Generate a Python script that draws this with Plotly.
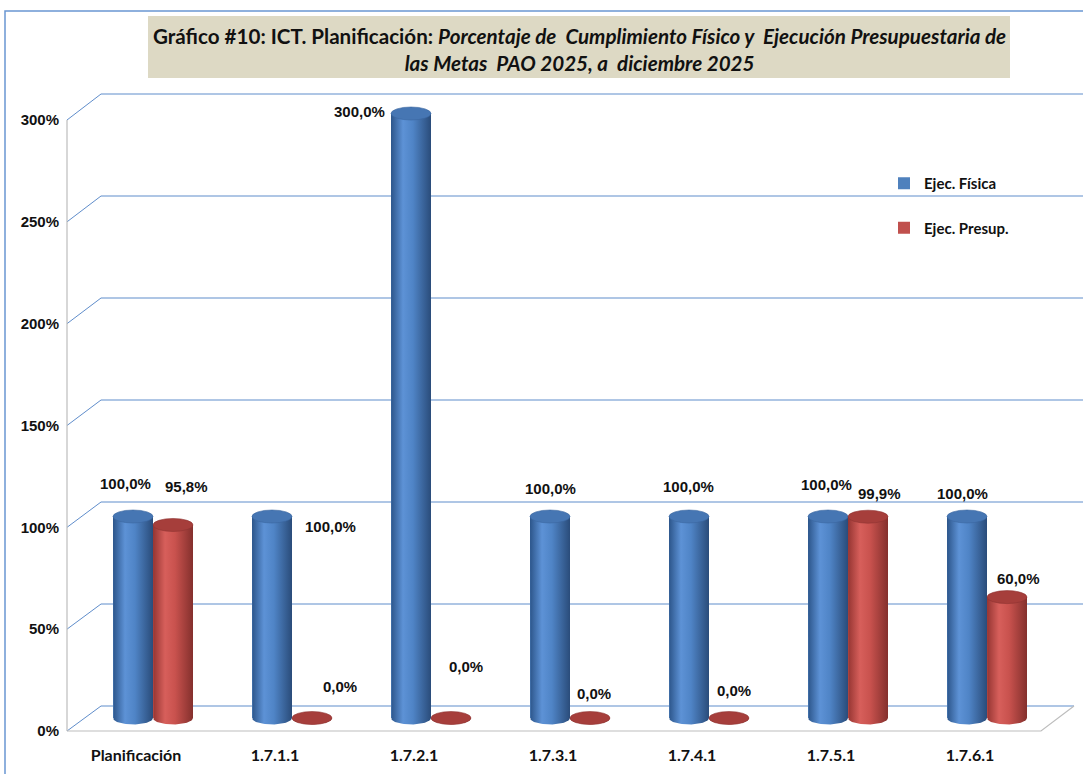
import numpy as np
import plotly.graph_objects as go

# ---- data ---------------------------------------------------------------
categories = ["Planificación", "1.7.1.1", "1.7.2.1", "1.7.3.1", "1.7.4.1", "1.7.5.1", "1.7.6.1"]
ejec_fisica = [100.0, 100.0, 300.0, 100.0, 100.0, 100.0, 100.0]
ejec_presup = [95.8, 0.0, 0.0, 0.0, 0.0, 99.9, 60.0]
y_ticks = [0, 50, 100, 150, 200, 250, 300]

# ---- canvas / pseudo-3D geometry ----------------------------------------
W, H = 1083, 774


def px_x(p):
    return p / W


def px_y(p):
    return 1 - p / H


# bar scale: value 0 sits at pixel row 718, 2.015 px per percentage point
Y_ZERO_PX = 718
PX_PER_PCT = 2.015
Y_RANGE = [-20, 320]
Y_DOMAIN = [px_y(Y_ZERO_PX - Y_RANGE[0] * PX_PER_PCT), px_y(Y_ZERO_PX - Y_RANGE[1] * PX_PER_PCT)]

# category centres: first at pixel 153, step 139 px
X0_PX, X_STEP_PX = 153, 139
X_RANGE = [(0 - X0_PX) / X_STEP_PX, (W - X0_PX) / X_STEP_PX]
BAR_W = 40 / X_STEP_PX
RY_PX = 6.5  # half-height of the cylinder ellipses

# front edge (value axis labels) and back wall of the 3D box
FRONT_ZERO_PX, FRONT_TOP_PX = 731, 120
BACK_ZERO_PX, BACK_TOP_PX = 706, 94
FRONT_X_PX, BACK_X_PX = 67, 101


def front_y(v):
    return px_y(FRONT_ZERO_PX - (FRONT_ZERO_PX - FRONT_TOP_PX) * v / 300)


def back_y(v):
    return px_y(BACK_ZERO_PX - (BACK_ZERO_PX - BACK_TOP_PX) * v / 300)


BLUE = dict(base="#4F81BD", top="#4676B3", edge="#3B679F",
            grad=[[0, "#2C558A"], [0.3, "#5D92D6"], [0.55, "#4F84C6"], [1, "#2A4C7A"]])
RED = dict(base="#C0504D", top="#A63E3B", edge="#8E3432",
           grad=[[0, "#953532"], [0.3, "#D75F5B"], [0.55, "#C9524E"], [1, "#84302D"]])

LABEL_FONT = dict(family="Liberation Sans, Arial", size=15, color="#111111", weight="bold")
CAT_FONT = dict(family="Lato, Liberation Sans", size=16, color="#111111", weight="bold")

# pixel nudges of each value label from the top of its bar
fis_label_shift = [(-8, 33), (58, -10), (-52, 2), (0, 28), (-1, 30), (-2, 32), (-5, 23)]
pre_label_shift = [(13, 38), (28, 31), (15, 51), (4, 24), (5, 27), (11, 23), (11, 19)]


def pct_label(v):
    return f"{v:.1f}".replace(".", ",") + "%"


fig = go.Figure()
shapes = []
annotations = []

x_idx = np.arange(len(categories))

# flat bars (base colour + legend entries)
fig.add_trace(go.Bar(x=x_idx, y=ejec_fisica, width=BAR_W, offset=-BAR_W, name="Ejec. Física",
                     marker=dict(color=BLUE["base"], line=dict(width=0)),
                     legendgroup="fis", hoverinfo="skip"))
fig.add_trace(go.Bar(x=x_idx, y=ejec_presup, width=BAR_W, offset=0, name="Ejec. Presup.",
                     marker=dict(color=RED["base"], line=dict(width=0)),
                     legendgroup="pre", hoverinfo="skip"))

ry_data = RY_PX / PX_PER_PCT
theta = np.linspace(np.pi, 2 * np.pi, 40)

for series, style, offs, shifts in (
    (ejec_fisica, BLUE, -BAR_W, fis_label_shift),
    (ejec_presup, RED, 0.0, pre_label_shift),
):
    for i, v in enumerate(series):
        xl = i + offs
        xr = xl + BAR_W
        xc = (xl + xr) / 2
        # cylinder body: side rectangle plus the rounded bottom
        arc_x = xc + (BAR_W / 2) * np.cos(theta)
        arc_y = ry_data * np.sin(theta)
        bx = [xl, xl] + list(arc_x) + [xr, xr, xl]
        by = [v, 0] + list(arc_y) + [0, v, v]
        fig.add_trace(go.Scatter(
            x=bx, y=by, mode="lines", fill="toself", line=dict(width=0),
            fillgradient=dict(type="horizontal", colorscale=style["grad"]),
            showlegend=False, hoverinfo="skip"))
        # top face
        shapes.append(dict(type="circle", xref="x", yref="y", x0=xl, x1=xr,
                           ysizemode="pixel", yanchor=v, y0=-RY_PX, y1=RY_PX,
                           fillcolor=style["top"], line=dict(color=style["edge"], width=0.6),
                           layer="above"))
        dx, dy = shifts[i]
        annotations.append(dict(x=xc, y=v, xref="x", yref="y", text=pct_label(v),
                                showarrow=False, xshift=dx, yshift=dy, font=LABEL_FONT))

# helper trace so the front value axis / category axis are drawn
fig.add_trace(go.Scatter(x=[0], y=[0], xaxis="x2", yaxis="y2", mode="markers",
                         marker=dict(opacity=0), showlegend=False, hoverinfo="skip"))

# back wall grid and side wall connectors
GRID = "#5F8DCB"
for v in y_ticks:
    shapes.append(dict(type="line", xref="paper", yref="paper",
                       x0=px_x(FRONT_X_PX), y0=front_y(v), x1=px_x(BACK_X_PX), y1=back_y(v),
                       line=dict(color=GRID, width=1), layer="below"))
    shapes.append(dict(type="line", xref="paper", yref="paper",
                       x0=px_x(BACK_X_PX), y0=back_y(v), x1=px_x(1074) if v == 0 else 1.0,
                       y1=back_y(v), line=dict(color=GRID, width=1), layer="below"))

EDGE = "#BDBDBD"
shapes.append(dict(type="line", xref="paper", yref="paper",
                   x0=px_x(FRONT_X_PX), y0=front_y(0), x1=px_x(FRONT_X_PX), y1=front_y(300),
                   line=dict(color=EDGE, width=1.2), layer="below"))
shapes.append(dict(type="path", xref="paper", yref="paper",
                   path=f"M {px_x(FRONT_X_PX)},{front_y(0)} L {px_x(1041)},{front_y(0)} "
                        f"L {px_x(1074)},{back_y(0)}",
                   line=dict(color=EDGE, width=1.2), layer="below"))

# outer chart border
shapes.append(dict(type="rect", xref="paper", yref="paper",
                   x0=px_x(5), y0=px_y(11), x1=px_x(W + 20), y1=px_y(H + 20),
                   line=dict(color="#6A96D2", width=1.5), fillcolor="rgba(0,0,0,0)", layer="below"))

# title box
shapes.append(dict(type="rect", xref="paper", yref="paper",
                   x0=px_x(148), y0=px_y(78), x1=px_x(1010), y1=px_y(16),
                   line=dict(width=0), fillcolor="#DDD9C4", layer="below"))
annotations.append(dict(
    x=px_x(579), y=px_y(49), xref="paper", yref="paper", showarrow=False,
    xanchor="center", yanchor="middle",
    text=("<b>Gráfico #10: ICT. Planificación: <i>Porcentaje de  Cumplimiento Físico y  "
          "Ejecución Presupuestaria de</i></b><br><b><i>las Metas  PAO 2025, a  diciembre 2025</i></b>"),
    font=dict(family="Lato, Liberation Sans", size=20.6, color="#111111"),
    align="center"))

fig.update_layout(
    width=W, height=H,
    margin=dict(l=0, r=0, t=0, b=0, autoexpand=False),
    paper_bgcolor="white", plot_bgcolor="rgba(0,0,0,0)",
    barmode="overlay",
    shapes=shapes, annotations=annotations,
    xaxis=dict(domain=[0, 1], range=X_RANGE, visible=False, fixedrange=True),
    yaxis=dict(domain=Y_DOMAIN, range=Y_RANGE, visible=False, fixedrange=True),
    xaxis2=dict(domain=[0, 1], range=X_RANGE, anchor="y2", tickmode="array",
                tickvals=list(x_idx), ticktext=categories, showgrid=False, zeroline=False,
                showline=False, ticks="", ticklabelshift=-17, ticklabelstandoff=13,
                tickfont=CAT_FONT, fixedrange=True, automargin=False),
    yaxis2=dict(domain=[front_y(0), front_y(300)], range=[0, 300], anchor="free",
                position=px_x(59), tickmode="array", tickvals=y_ticks,
                ticktext=[f"{v}%" for v in y_ticks], showgrid=False, zeroline=False,
                showline=False, ticks="", automargin=False,
                tickfont=dict(family="Liberation Sans, Arial", size=15,
                              color="#111111", weight="bold"),
                fixedrange=True),
    legend=dict(x=px_x(884), y=px_y(167), xanchor="left", yanchor="top",
                traceorder="grouped", tracegroupgap=22, bgcolor="rgba(0,0,0,0)",
                font=dict(family="Lato, Liberation Sans", size=15, color="#111111", weight="bold")),
    showlegend=True,
)

fig.write_html("out.html")
